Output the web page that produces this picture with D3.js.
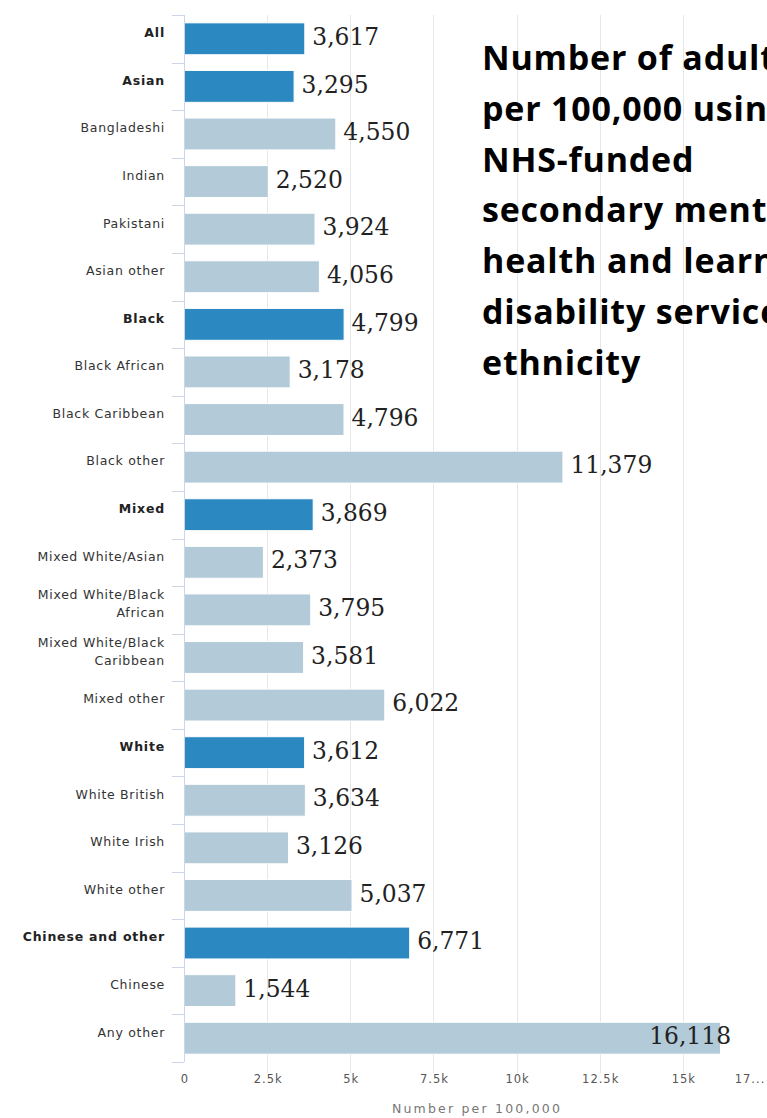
<!DOCTYPE html>
<html>
<head>
<meta charset="utf-8">
<script src="https://cdn.jsdelivr.net/npm/d3@7/dist/d3.min.js"></script>
<style>
  html, body { margin: 0; padding: 0; background: #fff; }
  svg { display: block; }
</style>
</head>
<body>
<div id="chart"></div>
<script>
// ---- Data ----
const categories = [
  "All", "Asian", "Bangladeshi", "Indian", "Pakistani", "Asian other",
  "Black", "Black African", "Black Caribbean", "Black other",
  "Mixed", "Mixed White/Asian", "Mixed White/Black African", "Mixed White/Black Caribbean", "Mixed other",
  "White", "White British", "White Irish", "White other",
  "Chinese and other", "Chinese", "Any other"
];
const labelLines = [
  ["All"], ["Asian"], ["Bangladeshi"], ["Indian"], ["Pakistani"], ["Asian other"],
  ["Black"], ["Black African"], ["Black Caribbean"], ["Black other"],
  ["Mixed"], ["Mixed White/Asian"], ["Mixed White/Black", "African"], ["Mixed White/Black", "Caribbean"], ["Mixed other"],
  ["White"], ["White British"], ["White Irish"], ["White other"],
  ["Chinese and other"], ["Chinese"], ["Any other"]
];
const values = [
  3617, 3295, 4550, 2520, 3924, 4056,
  4799, 3178, 4796, 11379,
  3869, 2373, 3795, 3581, 6022,
  3612, 3634, 3126, 5037,
  6771, 1544, 16118
];
const isGroup = [
  true, true, false, false, false, false,
  true, false, false, false,
  true, false, false, false, false,
  true, false, false, false,
  true, false, false
];
const xTickValues = [0, 2500, 5000, 7500, 10000, 12500, 15000, 17500];
const xTickLabels = ["0", "2.5k", "5k", "7.5k", "10k", "12.5k", "15k", "17..."];
const xAxisTitle = "Number per 100,000";
const titleLines = [
  "Number of adults", "per 100,000 using", "NHS-funded", "secondary mental",
  "health and learning", "disability services by", "ethnicity"
];

// ---- Setup ----
const W = 767, H = 1118;
const svg = d3.select("#chart").append("svg").attr("width", W).attr("height", H);

const plotTop = 15, plotBottom = 1062;
const x = d3.scaleLinear().domain([0, 17500]).range([184, 766]);
const y = d3.scaleBand().domain(categories).range([plotTop, plotBottom]).paddingInner(0.33).paddingOuter(0.165);
const step = y.step();

const darkColor = "#2c88c1";
const lightColor = "#b3cad8";

// Gridlines
svg.append("g").selectAll("line")
  .data(xTickValues.filter(d => d > 0 && d < 17500))
  .join("line")
  .attr("x1", d => Math.round(x(d)) + 0.5).attr("x2", d => Math.round(x(d)) + 0.5)
  .attr("y1", plotTop).attr("y2", plotBottom + 11)
  .attr("stroke", "#e6e6e6").attr("stroke-width", 1);

// Title
const title = svg.append("text")
  .attr("x", 482)
  .attr("y", 70)
  .attr("font-family", "'Open Sans', sans-serif")
  .attr("font-weight", "bold")
  .attr("font-size", 34)
  .attr("letter-spacing", 0.8)
  .attr("fill", "#000");
title.selectAll("tspan").data(titleLines).join("tspan")
  .attr("x", 482)
  .attr("dy", (d, i) => i === 0 ? 0 : 50.8)
  .text(d => d);

// Bars
svg.append("g").selectAll("rect")
  .data(categories)
  .join("rect")
  .attr("x", x(0) + 0.5)
  .attr("y", d => y(d))
  .attr("width", (d, i) => x(values[i]) - x(0))
  .attr("height", y.bandwidth())
  .attr("fill", (d, i) => isGroup[i] ? darkColor : lightColor)
  .attr("stroke", "#ffffff").attr("stroke-width", 1);

// Y axis line and ticks
svg.append("line")
  .attr("x1", 184.5).attr("x2", 184.5).attr("y1", plotTop).attr("y2", plotBottom)
  .attr("stroke", "#ccd6eb").attr("stroke-width", 1);
svg.append("g").selectAll("line")
  .data(d3.range(categories.length + 1))
  .join("line")
  .attr("x1", 172).attr("x2", 184)
  .attr("y1", i => Math.round(plotTop + i * step) + 0.5)
  .attr("y2", i => Math.round(plotTop + i * step) + 0.5)
  .attr("stroke", "#ccd6eb").attr("stroke-width", 1);

// Category labels
const catG = svg.append("g");
categories.forEach((c, i) => {
  const lines = labelLines[i];
  const cy = y(c) + y.bandwidth() / 2 - 6;
  const t = catG.append("text")
    .attr("text-anchor", "end")
    .attr("font-family", "'DejaVu Sans', Verdana, sans-serif")
    .attr("font-size", 12.5)
    .attr("letter-spacing", isGroup[i] ? 0.8 : 0.7)
    .attr("font-weight", isGroup[i] ? "bold" : "normal")
    .attr("fill", isGroup[i] ? "#222" : "#333");
  lines.forEach((ln, j) => {
    const yy = cy + (j - (lines.length - 1) / 2) * 18;
    t.append("tspan").attr("x", 165).attr("y", yy).attr("dy", "0.35em").text(ln);
  });
});

// Value labels
const valG = svg.append("g");
categories.forEach((c, i) => {
  const cy = y(c) + y.bandwidth() / 2 - 2;
  const t = valG.append("text")
    .attr("font-family", "'DejaVu Serif', serif")
    .attr("font-size", 23.4)
    .attr("fill", "#222")
    .attr("y", cy).attr("dy", "0.35em")
    .text(d3.format(",")(values[i]));
  const w = t.node().getComputedTextLength();
  if (x(values[i]) + 8 + w > W) {
    t.attr("x", x(values[i]) + 11).attr("text-anchor", "end");
  } else {
    t.attr("x", x(values[i]) + 8);
  }
});

// X tick labels
svg.append("g").selectAll("text")
  .data(xTickValues)
  .join("text")
  .attr("x", (d, i) => i === xTickValues.length - 1 ? 750 : x(d) + 1)
  .attr("y", 1083)
  .attr("text-anchor", "middle")
  .attr("font-family", "'DejaVu Sans', Verdana, sans-serif")
  .attr("font-size", 11.5)
  .attr("letter-spacing", 1)
  .attr("fill", "#555")
  .text((d, i) => xTickLabels[i]);

// X axis title
svg.append("text")
  .attr("x", 477).attr("y", 1113)
  .attr("text-anchor", "middle")
  .attr("font-family", "'DejaVu Sans', Verdana, sans-serif")
  .attr("font-size", 12.5)
  .attr("letter-spacing", 2.2)
  .attr("fill", "#777")
  .text(xAxisTitle);
</script>
</body>
</html>
